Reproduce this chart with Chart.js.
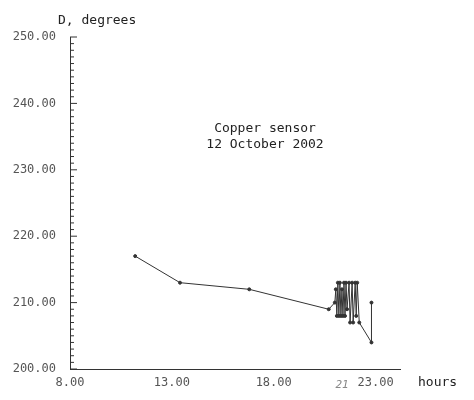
<!DOCTYPE html>
<html>
<head>
<meta charset="utf-8">
<script src="https://cdn.jsdelivr.net/npm/chart.js@4"></script>
<style>
  body { margin: 0; background: #fff; }
  #wrap { width: 474px; height: 400px; }
</style>
</head>
<body>
<div id="wrap"><canvas id="c"></canvas></div>
<script>
// hours and sensor readings
var hours = [11.2, 13.4, 16.8, 20.7, 21.0, 21.05, 21.1, 21.15, 21.2, 21.25, 21.3, 21.35, 21.4, 21.45, 21.5, 21.55, 21.6, 21.7, 21.75, 21.85, 21.9, 22.0, 22.05, 22.1, 22.2, 22.8, 22.8];
var degrees = [217, 213, 212, 209, 210, 212, 208, 213, 208, 213, 208, 212, 208, 213, 208, 213, 209, 213, 207, 213, 207, 213, 208, 213, 207, 204, 210];
var xTicks = [8, 13, 18, 23];
var yTicks = [200, 210, 220, 230, 240, 250];

var font = "'DejaVu Sans Mono', monospace";

var extras = {
  id: 'extras',
  afterDraw: function(chart) {
    var ctx = chart.ctx, x = chart.scales.x, y = chart.scales.y;
    ctx.save();
    ctx.strokeStyle = '#333';
    ctx.lineWidth = 1;
    // minor ticks on y axis
    for (var v = 200; v <= 250; v++) {
      var py = y.getPixelForValue(v);
      var len = v % 10 === 0 ? 7 : 4;
      ctx.beginPath(); ctx.moveTo(x.left, py); ctx.lineTo(x.left + len, py); ctx.stroke();
    }
    ctx.fillStyle = '#222';
    ctx.font = '13px ' + font;
    ctx.textAlign = 'left';
    ctx.fillText('D, degrees', 58, 24);
    ctx.fillText('hours', 418, 386);
    ctx.textAlign = 'center';
    ctx.fillText('Copper sensor', 265, 132);
    ctx.fillText('12 October 2002', 265, 148);
    ctx.fillStyle = '#888';
    ctx.font = 'italic 11px ' + font;
    ctx.fillText('21', 342, 388);
    ctx.restore();
  }
};

new Chart(document.getElementById('c'), {
  type: 'scatter',
  data: {
    datasets: [{
      data: hours.map(function(h, i) { return { x: h, y: degrees[i] }; }),
      showLine: true,
      borderColor: '#333',
      backgroundColor: '#333',
      borderWidth: 1,
      pointRadius: 1.5
    }]
  },
  options: {
    animation: false,
    responsive: true,
    maintainAspectRatio: false,
    layout: { padding: { top: 37, right: 74 } },
    plugins: { legend: { display: false }, tooltip: { enabled: false } },
    scales: {
      x: {
        type: 'linear', min: 8, max: 24.2,
        afterFit: function(s) { s.height = 31; },
        afterBuildTicks: function(s) { s.ticks = xTicks.map(function(v) { return { value: v }; }); },
        grid: { display: false, drawTicks: true, tickLength: 5, color: '#333' },
        border: { color: '#333' },
        ticks: { color: '#555', font: { family: font, size: 12 }, padding: 2,
                 callback: function(v) { return v.toFixed(2); } }
      },
      y: {
        min: 200, max: 250,
        afterFit: function(s) { s.width = 70; },
        afterBuildTicks: function(s) { s.ticks = yTicks.map(function(v) { return { value: v }; }); },
        grid: { display: false },
        border: { color: '#333' },
        ticks: { color: '#555', font: { family: font, size: 12 }, padding: 6,
                 callback: function(v) { return v.toFixed(2); } }
      }
    }
  },
  plugins: [extras]
});
</script>
</body>
</html>
